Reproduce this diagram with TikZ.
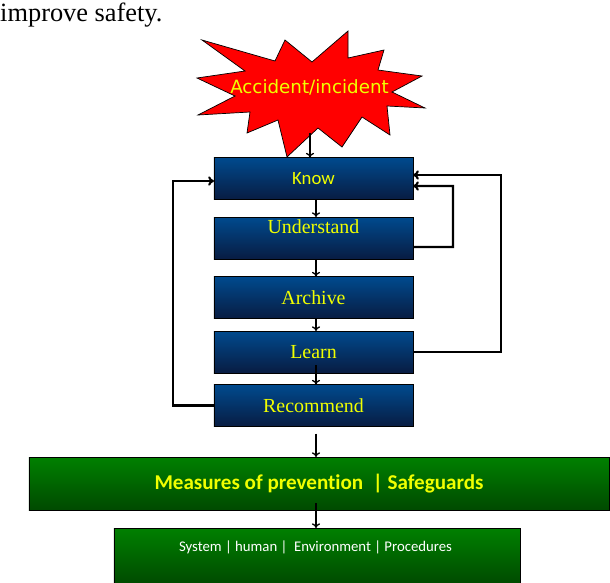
\documentclass[tikz,border=0pt]{standalone}
\usepackage{fontspec}
\setmainfont{Liberation Serif}
\newfontfamily\calfont[Ligatures=NoCommon]{Carlito}
\newfontfamily\dejafont{DejaVu Sans}
\usetikzlibrary{arrows.meta}
\definecolor{boxtop}{RGB}{0,74,142}
\definecolor{boxbot}{RGB}{8,28,66}
\definecolor{grtop}{RGB}{0,128,0}
\definecolor{grbot}{RGB}{0,74,0}
\definecolor{txtyel}{RGB}{240,255,0}
\tikzset{
	bluebox/.style={draw=black, line width=0.8pt, top color=boxtop, bottom color=boxbot, minimum width=5.97cm, minimum height=1.26cm, inner sep=0pt, outer sep=0pt},
	greenbox/.style={draw=black, line width=0.8pt, top color=grtop, bottom color=grbot, inner sep=0pt, outer sep=0pt},
	stepname/.style={text=txtyel, font=\fontsize{17}{17}\selectfont},
	flow/.style={-{To[length=4pt,width=7pt]}, line width=1.1pt},
	back/.style={-{To[length=5pt,width=8pt]}, line width=1.8pt, line join=miter},
}

\begin{document}
\begin{tikzpicture}[x=0.03cm, y=-0.03cm]
	\useasboundingbox (0,0) rectangle (610,582);
		\node[anchor=base west, inner sep=0pt, font=\fontsize{22.5}{22.5}\selectfont] (intro) at (0,21) {improve safety.};
		% burst
		\draw[fill=red, line width=0.6pt, line join=miter] (202,40) -- (275,61) -- (285,40) -- (312,62) -- (348,31) -- (348,58) -- (384,50) -- (378,70) -- (422,76) -- (392,92) -- (425,108) -- (387,106) -- (390,135) -- (362,117) -- (342,147) -- (318,128) -- (287,157) -- (278,120) -- (247,133) -- (250,112) -- (198,115) -- (235,96) -- (197,78) -- (245,71) -- cycle;
		\node[text=txtyel, font=\dejafont\fontsize{15.6}{15.6}\selectfont] (acc) at (309.5,87) {Accident/incident};
		\coordinate (accbot) at (310,133);
		\coordinate (ax) at (316,0);

		\node[bluebox, text=txtyel, font=\calfont\fontsize{16}{16}\selectfont] (know) at (313.5,178.5) {Know};
		\node[bluebox] (und) at (313.5,238) {};
		\node[stepname, anchor=base, inner sep=0pt] (undtxt) at (313.5,233) {Understand};
		\node[bluebox, stepname] (arch) at (313.5,297.5) {Archive};
		\node[bluebox, stepname] (learn) at (313.5,352) {Learn};
		\node[bluebox, stepname] (rec) at (313.5,405.5) {Recommend};

		\node[greenbox, minimum width=17.4cm, minimum height=1.59cm, text=txtyel, font=\calfont\bfseries\fontsize{18}{18}\selectfont] (meas) at (319,483.5) {Measures of prevention~ | Safeguards};
		\node[greenbox, minimum width=12.18cm, minimum height=1.68cm] (sys) at (317,556) {};
		\node[text=white, inner sep=0pt, font=\calfont\fontsize{12.6}{12.6}\selectfont] (systxt) at (315.5,547) {System | human |~ Environment | Procedures};

		\draw[flow] (accbot) -- (know.north -| accbot);
		\draw[flow] (know.south -| ax) -- (und.north -| ax);
		\draw[flow] (und.south -| ax) -- (arch.north -| ax);
		\draw[flow] (arch.south -| ax) -- (learn.north -| ax);
		\draw[flow] (learn.south -| ax) ++(0,-8) -- (rec.north -| ax);
		\draw[flow] (rec.south -| ax) ++(0,7) -- (meas.north -| ax);
		\draw[flow] (meas.south -| ax) ++(0,-7) -- (sys.north -| ax);

		\draw[back] (rec.west) -| (173,181) -- ([yshift=-0.075cm]know.west);
		\draw[back] ([yshift=-0.27cm]und.east) -| (453,186) -- ([yshift=-0.225cm]know.east);
		\draw[back] (learn.east) -| (501,175) -- ([yshift=0.105cm]know.east);
	\end{tikzpicture}
\end{document}
